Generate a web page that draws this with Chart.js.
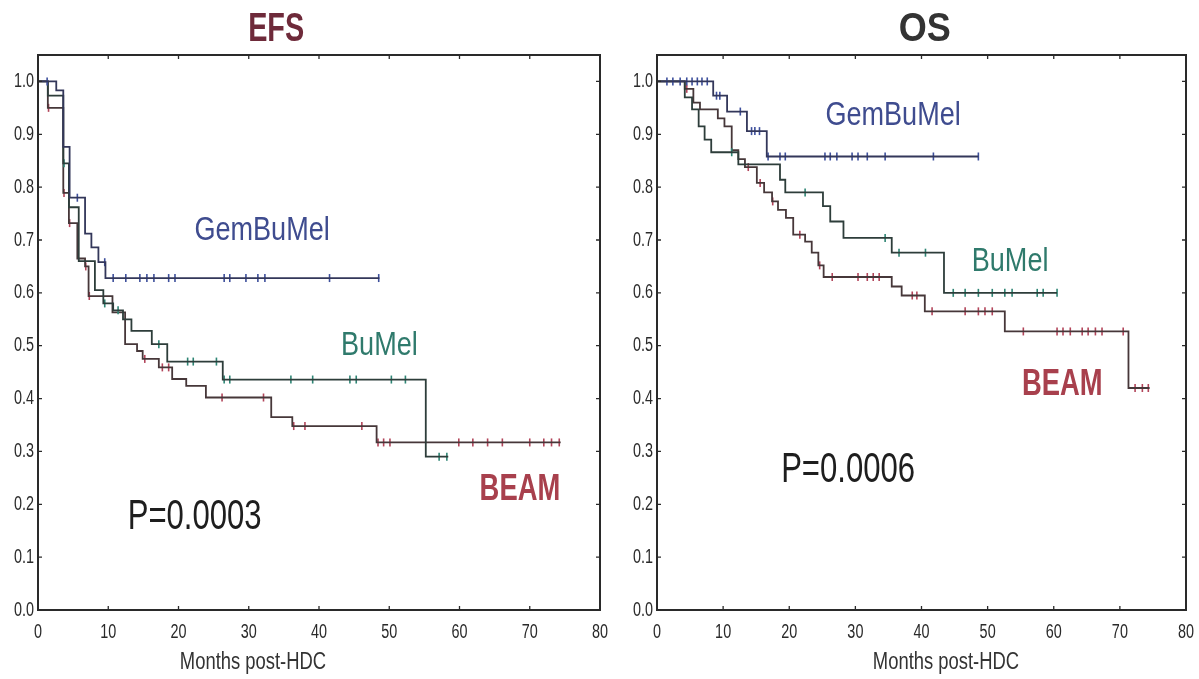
<!DOCTYPE html>
<html>
<head>
<meta charset="utf-8">
<script src="https://cdn.jsdelivr.net/npm/chart.js@4.4.1/dist/chart.umd.min.js"></script>
<style>
  html, body { margin: 0; padding: 0; background: #fff; }
  #wrap { position: relative; width: 1199px; height: 679px; overflow: hidden; }
  canvas { position: absolute; top: 0; }
</style>
</head>
<body>
<div id="wrap">
  <canvas id="efs" width="620" height="679" style="left:0"></canvas>
  <canvas id="os" width="579" height="679" style="left:620px"></canvas>
</div>
<script>
// ---- EFS (event-free survival) ----
const efsGemTimes = [0, 2.6, 3.6, 4.5, 6.7, 7.6, 8.6, 9.6, 48.6];
const efsGemSurv  = [1, 0.983, 0.876, 0.78, 0.712, 0.686, 0.658, 0.628, 0.628];
const efsGemCens  = [1.3, 5.6, 9.5, 10.7, 12.5, 14.5, 15.5, 16.5, 18.6, 19.5, 26.5, 27.3, 29.6, 31.3, 32.3, 41.5, 48.5];

const efsBuTimes = [0, 1.4, 3.6, 4.4, 5.8, 8.1, 9.3, 10.7, 12.1, 13.3, 16.2, 18.4, 26.3, 55.2, 58.4];
const efsBuSurv  = [1, 0.973, 0.845, 0.762, 0.66, 0.605, 0.58, 0.567, 0.55, 0.528, 0.503, 0.47, 0.436, 0.29, 0.29];
const efsBuCens  = [3.7, 9.5, 11.4, 17.2, 21.3, 22.1, 25.4, 26.5, 27.3, 36, 39.1, 44.4, 45.3, 50.3, 52.3, 57.1, 58.2];

const efsBeamTimes = [0, 1.4, 3.6, 4.4, 5.6, 6.7, 7.2, 10.6, 12.4, 14.1, 14.9, 17.2, 19.1, 21.1, 23.9, 33.2, 36.2, 48.2, 74.4];
const efsBeamSurv  = [1, 0.95, 0.789, 0.732, 0.665, 0.65, 0.594, 0.563, 0.503, 0.49, 0.475, 0.459, 0.437, 0.424, 0.402, 0.365, 0.348, 0.317, 0.317];
const efsBeamCens  = [1.5, 3.7, 4.5, 6.8, 7.3, 15.2, 17.7, 18.6, 26.2, 32.1, 36.4, 38, 46.1, 48.4, 49.2, 50.1, 59.9, 61.9, 64, 66.1, 70, 72, 73.1, 74.2];

// ---- OS (overall survival) ----
const osGemTimes = [0, 8.5, 10.6, 13.6, 16.6, 48.6];
const osGemSurv  = [1, 0.973, 0.943, 0.906, 0.858, 0.858];
const osGemCens  = [1.5, 2.4, 3.5, 4.5, 5.3, 6.1, 6.8, 7.6, 9.0, 9.5, 12.6, 14.3, 14.8, 15.5, 16.8, 18.6, 19.4, 25.4, 26.2, 27.2, 29.5, 30.4, 31.8, 34.5, 41.8, 48.6];

const osBuTimes = [0, 4.2, 5.3, 6.3, 7.2, 8.2, 12.3, 18.6, 19.4, 25.1, 26.2, 28.2, 35.5, 43.4, 60.5];
const osBuSurv  = [1, 0.97, 0.947, 0.915, 0.89, 0.866, 0.843, 0.814, 0.79, 0.764, 0.735, 0.704, 0.676, 0.60, 0.60];
const osBuCens  = [11.3, 22.4, 34.5, 36.6, 40.6, 44.8, 46.6, 48.6, 50.7, 52.6, 53.7, 57.5, 58.4, 60.5];

const osBeamTimes = [0, 4.2, 5.5, 6.5, 9.2, 10.2, 11.3, 12.3, 13.3, 15.1, 16.2, 17.4, 18.3, 19.5, 20.6, 22.4, 23.4, 24.4, 25.2, 35.5, 37, 40.5, 52.6, 71.3, 74.5];
const osBeamSurv  = [1, 0.986, 0.96, 0.947, 0.93, 0.915, 0.87, 0.853, 0.838, 0.808, 0.79, 0.773, 0.757, 0.742, 0.71, 0.697, 0.676, 0.652, 0.63, 0.612, 0.595, 0.565, 0.527, 0.42, 0.42];
const osBeamCens  = [4.5, 13.8, 15.6, 17.5, 21.6, 24.6, 26.5, 30.4, 31.8, 32.7, 33.6, 38.6, 39.3, 41.6, 46.6, 48.6, 49.6, 50.7, 55.4, 60.5, 61.4, 62.5, 64.3, 65.2, 66.3, 67.3, 70.5, 72.3, 73.4, 74.3];

const xTicks = [0, 10, 20, 30, 40, 50, 60, 70, 80];
const yTicks = [0, 0.1, 0.2, 0.3, 0.4, 0.5, 0.6, 0.7, 0.8, 0.9, 1.0];
const xTitle = 'Months post-HDC';

const SANS = "'Liberation Sans', Arial, sans-serif";
const colors = {
  gem:  { line: '#33375a', mark: '#3d4f9c', text: '#3f4c8f' },
  bu:   { line: '#2d3d3a', mark: '#2e8574', text: '#2f7a6c' },
  beam: { line: '#463739', mark: '#b2455a', text: '#a8404d' }
};

function survAt(times, surv, t) {
  let v = surv[0];
  for (let i = 0; i < times.length; i++) {
    if (times[i] <= t) v = surv[i];
  }
  return v;
}

function curveSets(times, surv, cens, col) {
  return [
    {
      type: 'line',
      data: times.map((t, i) => ({ x: t, y: surv[i] })),
      stepped: 'before',
      borderColor: col.line,
      borderWidth: 1.8,
      pointRadius: 0,
      fill: false
    },
    {
      type: 'scatter',
      data: cens.map(t => ({ x: t, y: survAt(times, surv, t) })),
      pointStyle: 'line',
      rotation: 90,
      pointRadius: 4,
      borderColor: col.mark,
      borderWidth: 1.6,
      showLine: false
    }
  ];
}

// condensed text: draw with a horizontal squeeze
function squeezedText(ctx, text, x, y, font, color, squeeze, align) {
  ctx.save();
  ctx.font = font;
  ctx.fillStyle = color;
  ctx.textAlign = align || 'center';
  ctx.textBaseline = 'middle';
  ctx.translate(x, y);
  ctx.scale(squeeze, 1);
  ctx.fillText(text, 0, 0);
  ctx.restore();
}

// frame, inward ticks, tick labels, panel title, x title and curve labels
const panelPlugin = {
  id: 'panel',
  afterDraw(chart, args, opts) {
    const ctx = chart.ctx;
    const a = chart.chartArea;
    const xs = chart.scales.x, ys = chart.scales.y;
    ctx.save();
    ctx.strokeStyle = '#2a2a2a';
    ctx.lineWidth = 2;
    ctx.strokeRect(a.left, a.top, a.right - a.left, a.bottom - a.top);
    ctx.lineWidth = 1.3;
    ctx.beginPath();
    xTicks.forEach(v => {
      const px = xs.getPixelForValue(v);
      ctx.moveTo(px, a.bottom); ctx.lineTo(px, a.bottom - 4);
      ctx.moveTo(px, a.top); ctx.lineTo(px, a.top + 4);
    });
    yTicks.forEach(v => {
      const py = ys.getPixelForValue(v);
      ctx.moveTo(a.left, py); ctx.lineTo(a.left + 4, py);
      ctx.moveTo(a.right, py); ctx.lineTo(a.right - 4, py);
    });
    ctx.stroke();
    ctx.restore();

    const tickFont = '20px ' + SANS;
    xTicks.forEach(v => {
      squeezedText(ctx, String(v), xs.getPixelForValue(v), a.bottom + 22, tickFont, '#2a2a2a', 0.72);
    });
    yTicks.forEach(v => {
      squeezedText(ctx, v.toFixed(1), a.left - 4, ys.getPixelForValue(v), tickFont, '#2a2a2a', 0.72, 'right');
    });

    squeezedText(ctx, opts.title, xs.getPixelForValue(opts.titleX), 30,
                 'bold 40px ' + SANS, opts.titleColor, opts.titleSqueeze);
    squeezedText(ctx, xTitle, xs.getPixelForValue(opts.xTitleX), a.bottom + 53,
                 '23px ' + SANS, '#333333', 0.8);

    opts.labels.forEach(l => {
      squeezedText(ctx, l.text, xs.getPixelForValue(l.x), ys.getPixelForValue(l.y),
                   l.font, l.color, l.squeeze);
    });
  }
};

function makeChart(id, sets, panel, padRight, yWidth) {
  return new Chart(document.getElementById(id), {
    data: { datasets: sets },
    options: {
      responsive: false,
      animation: false,
      layout: { padding: { top: 55, right: padRight, left: 0, bottom: 0 } },
      plugins: {
        legend: { display: false },
        tooltip: { enabled: false },
        panel: panel
      },
      scales: {
        x: {
          type: 'linear', min: 0, max: 80,
          afterFit: s => { s.height = 69; },
          grid: { display: false, drawTicks: false },
          border: { display: false },
          ticks: { display: false }
        },
        y: {
          type: 'linear', min: 0, max: 1.05,
          afterFit: s => { s.width = yWidth; },
          grid: { display: false, drawTicks: false },
          border: { display: false },
          ticks: { display: false }
        }
      }
    },
    plugins: [panelPlugin]
  });
}

const efsSets = [].concat(
  curveSets(efsGemTimes, efsGemSurv, efsGemCens, colors.gem),
  curveSets(efsBuTimes, efsBuSurv, efsBuCens, colors.bu),
  curveSets(efsBeamTimes, efsBeamSurv, efsBeamCens, colors.beam)
);
const osSets = [].concat(
  curveSets(osGemTimes, osGemSurv, osGemCens, colors.gem),
  curveSets(osBuTimes, osBuSurv, osBuCens, colors.bu),
  curveSets(osBeamTimes, osBeamSurv, osBeamCens, colors.beam)
);

const labelFont = '33px ' + SANS;
const beamFont = 'bold 37px ' + SANS;
const pFont = '42px ' + SANS;

makeChart('efs', efsSets, {
  title: 'EFS', titleX: 33.9, titleColor: '#6e2a3a', titleSqueeze: 0.72, xTitleX: 30.6,
  labels: [
    { text: 'GemBuMel', x: 31.9, y: 0.718, color: colors.gem.text, font: labelFont, squeeze: 0.82 },
    { text: 'BuMel', x: 48.6, y: 0.50, color: colors.bu.text, font: labelFont, squeeze: 0.82 },
    { text: 'BEAM', x: 68.6, y: 0.227, color: colors.beam.text, font: beamFont, squeeze: 0.74 },
    { text: 'P=0.0003', x: 22.3, y: 0.176, color: '#1e1e1e', font: pFont, squeeze: 0.74 }
  ]
}, 20, 38);

makeChart('os', osSets, {
  title: 'OS', titleX: 40.5, titleColor: '#333333', titleSqueeze: 0.9, xTitleX: 43.7,
  labels: [
    { text: 'GemBuMel', x: 35.7, y: 0.934, color: colors.gem.text, font: labelFont, squeeze: 0.82 },
    { text: 'BuMel', x: 53.4, y: 0.659, color: colors.bu.text, font: labelFont, squeeze: 0.82 },
    { text: 'BEAM', x: 61.3, y: 0.426, color: colors.beam.text, font: beamFont, squeeze: 0.74 },
    { text: 'P=0.0006', x: 28.9, y: 0.265, color: '#1e1e1e', font: pFont, squeeze: 0.74 }
  ]
}, 13, 37);
</script>
</body>
</html>
